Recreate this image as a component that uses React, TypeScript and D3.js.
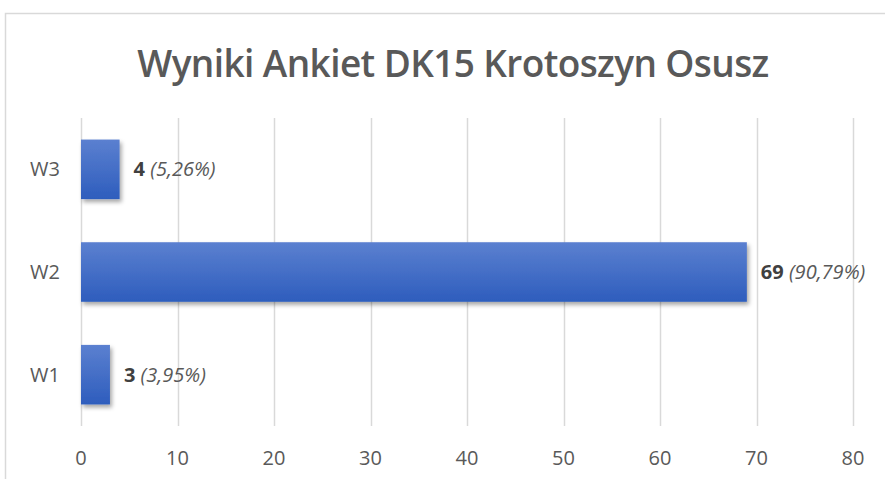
import * as d3 from "d3";
import { useEffect, useRef } from "react";

const categories = ["W3", "W2", "W1"];
const counts = [4, 69, 3];
const percents = ["5,26%", "90,79%", "3,95%"];
const xTicks = [0, 10, 20, 30, 40, 50, 60, 70, 80];
const title = "Wyniki Ankiet DK15 Krotoszyn Osusz";

export default function App() {
  const ref = useRef<SVGSVGElement | null>(null);

  useEffect(() => {
    if (!ref.current) return;
    const width = 885;
    const height = 479;
    const margin = { top: 118, right: 32, bottom: 53, left: 81 };
    const innerW = width - margin.left - margin.right;
    const innerH = height - margin.top - margin.bottom;
    const font = "'Open Sans', 'Liberation Sans', sans-serif";
    const grey = "#595959";

    const svg = d3.select(ref.current);
    svg.selectAll("*").remove();

    const defs = svg.append("defs");
    const grad = defs
      .append("linearGradient")
      .attr("id", "barGrad")
      .attr("x1", 0)
      .attr("y1", 0)
      .attr("x2", 0)
      .attr("y2", 1);
    grad.append("stop").attr("offset", "0%").attr("stop-color", "#5b80d0");
    grad.append("stop").attr("offset", "100%").attr("stop-color", "#2e5dbd");
    const filt = defs
      .append("filter")
      .attr("id", "shadow")
      .attr("x", "-20%")
      .attr("y", "-20%")
      .attr("width", "160%")
      .attr("height", "160%");
    filt
      .append("feDropShadow")
      .attr("dx", 2)
      .attr("dy", 3)
      .attr("stdDeviation", 2)
      .attr("flood-color", "#000")
      .attr("flood-opacity", 0.35);

    svg.append("rect").attr("width", width).attr("height", height).attr("fill", "#fff");
    svg
      .append("rect")
      .attr("x", 5.5)
      .attr("y", 13.5)
      .attr("width", width + 20)
      .attr("height", height + 20)
      .attr("fill", "none")
      .attr("stroke", "#d9d9d9")
      .attr("stroke-width", 1.5);

    svg
      .append("text")
      .attr("x", 453)
      .attr("y", 77)
      .attr("text-anchor", "middle")
      .style("font-family", font)
      .style("font-size", "37px")
      .style("font-weight", "600")
      .style("fill", grey)
      .style("letter-spacing", "-0.6px")
      .text(title);

    const x = d3.scaleLinear().domain([0, 80]).range([0, innerW]);
    const y = d3.scaleBand().domain(categories).range([0, innerH]).paddingInner(0.42).paddingOuter(0.21);

    const g = svg.append("g").attr("transform", `translate(${margin.left},${margin.top})`);

    g.selectAll("line.grid")
      .data(xTicks)
      .join("line")
      .attr("class", "grid")
      .attr("x1", (d) => Math.round(x(d)) + 0.5)
      .attr("x2", (d) => Math.round(x(d)) + 0.5)
      .attr("y1", 0)
      .attr("y2", innerH)
      .attr("stroke", "#d9d9d9")
      .attr("stroke-width", 1.5);

    const rows = categories.map((c, i) => ({ c, v: counts[i], p: percents[i] }));

    g.selectAll("rect.bar")
      .data(rows)
      .join("rect")
      .attr("class", "bar")
      .attr("x", x(0))
      .attr("y", (d) => y(d.c) ?? 0)
      .attr("width", (d) => x(d.v))
      .attr("height", y.bandwidth())
      .attr("fill", "url(#barGrad)")
      .attr("filter", "url(#shadow)");

    const labels = g
      .selectAll("text.lbl")
      .data(rows)
      .join("text")
      .attr("class", "lbl")
      .attr("x", (d) => x(d.v) + 14)
      .attr("y", (d) => (y(d.c) ?? 0) + y.bandwidth() / 2 + 7)
      .style("font-family", font)
      .style("font-size", "20px")
      .style("fill", grey);
    labels
      .append("tspan")
      .style("font-weight", "700")
      .style("fill", "#404040")
      .text((d) => `${d.v} `);
    labels
      .append("tspan")
      .style("font-style", "italic")
      .text((d) => `(${d.p})`);

    g.selectAll("text.cat")
      .data(categories)
      .join("text")
      .attr("class", "cat")
      .attr("x", -21)
      .attr("y", (d) => (y(d) ?? 0) + y.bandwidth() / 2 + 7)
      .attr("text-anchor", "end")
      .style("font-family", font)
      .style("font-size", "20px")
      .style("fill", grey)
      .text((d) => d);

    g.selectAll("text.tick")
      .data(xTicks)
      .join("text")
      .attr("class", "tick")
      .attr("x", (d) => x(d))
      .attr("y", innerH + 39)
      .attr("text-anchor", "middle")
      .style("font-family", font)
      .style("font-size", "20px")
      .style("fill", grey)
      .text((d) => d);
  }, []);

  return (
    <div style={{ position: "absolute", left: 0, top: 0 }}>
      <svg ref={ref} width={885} height={479} style={{ display: "block" }} />
    </div>
  );
}
